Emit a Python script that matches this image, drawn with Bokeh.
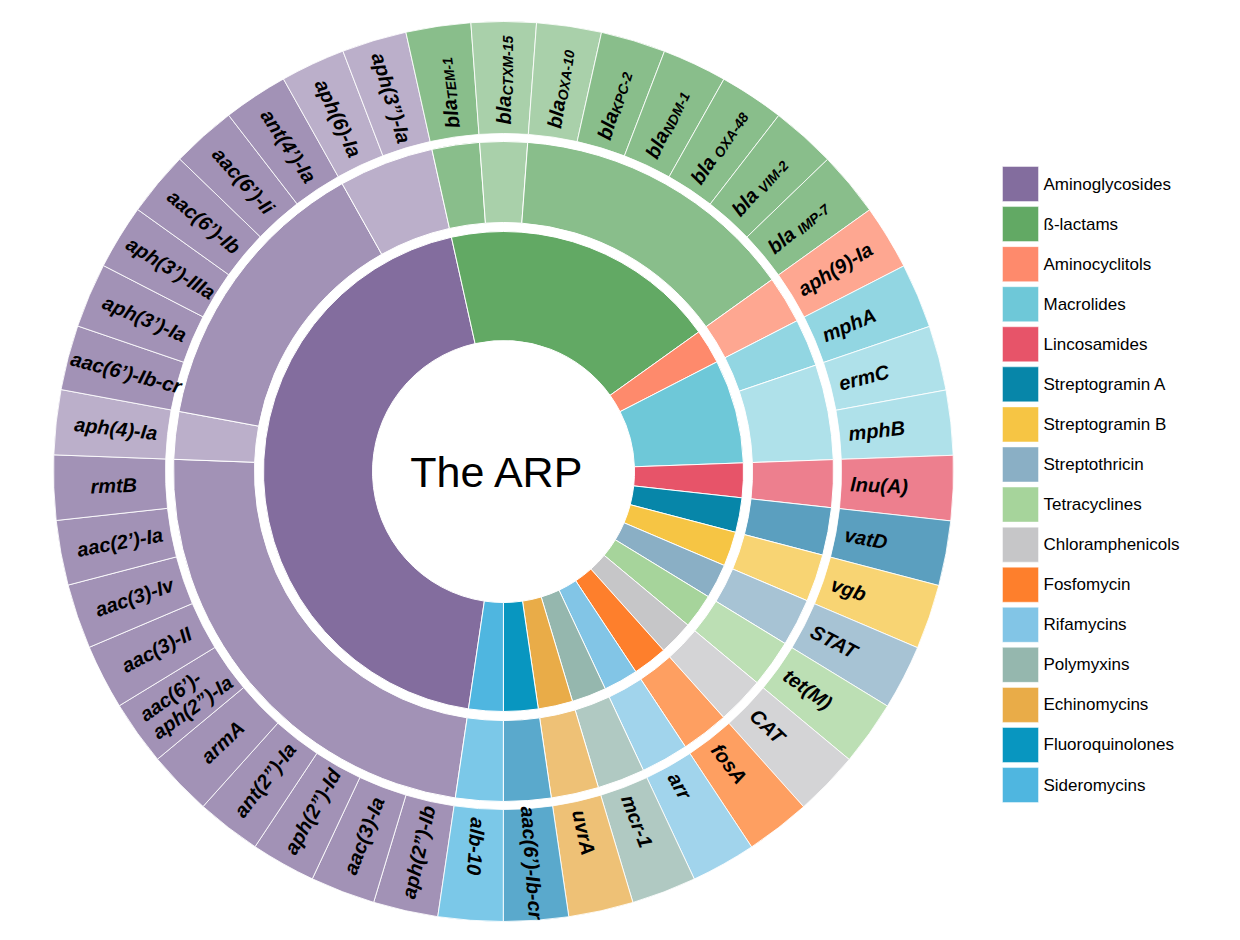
import math
from bokeh.plotting import figure
from bokeh.models import Range1d, ColumnDataSource
from bokeh.embed import file_html
from bokeh.resources import INLINE
from bokeh.core.properties import value

# ---------------- data ----------------
classes = ["Aminoglycosides", "ß-lactams", "Aminocyclitols", "Macrolides", "Lincosamides",
           "Streptogramin A", "Streptogramin B", "Streptothricin", "Tetracyclines",
           "Chloramphenicols", "Fosfomycin", "Rifamycins", "Polymyxins", "Echinomycins",
           "Fluoroquinolones", "Sideromycins"]
class_colors = ["#836d9e", "#62a964", "#fe8a6c", "#6ec8d8", "#e75469", "#0786a9", "#f6c544",
                "#8aafc5", "#a6d49b", "#c6c6c8", "#fe7f2c", "#82c5e6", "#95b7ae", "#e9ac48",
                "#0896c0", "#4fb6e0"]
# shade used in the middle/outer rings where a plain tint does not match
ring_color_override = {"Streptogramin A": "#5b9fbf", "Fluoroquinolones": "#5aa9cc"}

# genes in clockwise order (starting next to alb-10); "|" marks a subscript, "\n" a line break
gene_labels = ["aph(2”)-Ib", "aac(3)-Ia", "aph(2”)-Id", "ant(2”)-Ia", "armA",
               "aac(6’)-\naph(2”)-Ia", "aac(3)-II", "aac(3)-Iv", "aac(2’)-Ia", "rmtB",
               "aph(4)-Ia", "aac(6’)-Ib-cr", "aph(3’)-Ia", "aph(3’)-IIIa", "aac(6’)-Ib",
               "aac(6’)-Ii", "ant(4’)-Ia", "aph(6)-Ia", "aph(3”)-Ia",
               "bla|TEM-1", "bla|CTXM-15", "bla|OXA-10", "bla|KPC-2", "bla|NDM-1",
               "bla| OXA-48", "bla| VIM-2", "bla| IMP-7",
               "aph(9)-Ia", "mphA", "ermC", "mphB", "lnu(A)", "vatD", "vgb", "STAT",
               "tet(M)", "CAT", "fosA", "arr", "mcr-1", "uvrA", "aac(6’)-Ib-cr", "alb-10"]
gene_classes = (["Aminoglycosides"] * 19 + ["ß-lactams"] * 8 + ["Aminocyclitols"] +
                ["Macrolides"] * 3 +
                ["Lincosamides", "Streptogramin A", "Streptogramin B", "Streptothricin",
                 "Tetracyclines", "Chloramphenicols", "Fosfomycin", "Rifamycins",
                 "Polymyxins", "Echinomycins", "Fluoroquinolones", "Sideromycins"])
gene_weights = [1] * 43
gene_tones = (["d"] * 10 + ["l"] + ["d"] * 6 + ["l", "l"] +
              ["d", "l", "l", "d", "d", "d", "d", "d"] + ["d"] +
              ["d", "l", "l"] + ["d"] * 12)
# middle ring: consecutive gene counts per group and their tone
group_sizes = [10, 1, 6, 2, 1, 1, 6, 1, 1, 2] + [1] * 12
group_tones = ["d", "l", "d", "l", "d", "l", "d", "d", "d", "l"] + ["d"] * 12

title_text = "The ARP"

# ---------------- layout ----------------
W, H = 1224, 924
CX, CY = 503.0, 469.0          # data coords: x = screen x, y = 940 - screen y
R0, R1, R2, R3, R4, R5 = 131, 240, 249, 330, 338, 450
START = 188.4                   # degrees clockwise from 12 o'clock
TONE_ALPHA = {"d": 0.75, "l": 0.55}
FLIP_FROM, FLIP_TO = 185.0, 350.0
LABEL_FONT = value("Liberation Sans")
DEG = math.pi / 180.0

cmap = dict(zip(classes, class_colors))
total = float(sum(gene_weights))


def tint(hexc, a):
    h = hexc.lstrip("#")
    rgb = [int(h[j:j + 2], 16) for j in (0, 2, 4)]
    return "#" + "".join(f"{int(round(255 - a * (255 - v))):02x}" for v in rgb)


def ring_color(cls, tone):
    if tone == "d" and cls in ring_color_override:
        return ring_color_override[cls]
    return tint(cmap[cls], TONE_ALPHA[tone])


def to_angle(theta):
    return (90.0 - theta) * DEG


BOLD_W = {"a": 556, "b": 611, "c": 556, "d": 611, "e": 556, "f": 333, "g": 611, "h": 611,
          "i": 278, "l": 278, "m": 889, "n": 611, "o": 611, "p": 611, "r": 389, "s": 556,
          "t": 333, "u": 611, "v": 556, "x": 556, "y": 556, "(": 333, ")": 333, "-": 333,
          "’": 278, "”": 500, " ": 278, "A": 722, "B": 722, "C": 722, "D": 722, "E": 667,
          "I": 278, "K": 722, "M": 833, "N": 722, "O": 778, "P": 667, "S": 667, "T": 611,
          "V": 667, "X": 667}


def text_w(s, size):
    return sum(BOLD_W.get(ch, 556) for ch in s) / 1000.0 * size


p = figure(width=W, height=H, x_range=Range1d(0, W), y_range=Range1d(940 - H, 940),
           x_axis_type=None, y_axis_type=None, toolbar_location=None,
           output_backend="svg", min_border=0, outline_line_color=None,
           background_fill_color="white", border_fill_color="white")

# ---- spans ----
gene_t0 = []
acc = 0.0
for wgt in gene_weights:
    gene_t0.append(START + acc / total * 360.0)
    acc += wgt
gene_t1 = [t + w / total * 360.0 for t, w in zip(gene_t0, gene_weights)]

# inner ring (classes)
ring_classes = []
for c in gene_classes:
    if c not in ring_classes:
        ring_classes.append(c)
inner = dict(s=[], e=[], color=[])
for c in ring_classes:
    idx = [i for i, g in enumerate(gene_classes) if g == c]
    inner["s"].append(to_angle(gene_t1[idx[-1]]))
    inner["e"].append(to_angle(gene_t0[idx[0]]))
    inner["color"].append(cmap[c])
p.annular_wedge(x=CX, y=CY, inner_radius=R0, outer_radius=R1, start_angle="s",
                end_angle="e", fill_color="color", line_color="white", line_width=1,
                source=ColumnDataSource(inner))

# middle ring
mid = dict(s=[], e=[], color=[])
k = 0
for size, tone in zip(group_sizes, group_tones):
    mid["s"].append(to_angle(gene_t1[k + size - 1]))
    mid["e"].append(to_angle(gene_t0[k]))
    mid["color"].append(ring_color(gene_classes[k], tone))
    k += size
p.annular_wedge(x=CX, y=CY, inner_radius=R2, outer_radius=R3, start_angle="s",
                end_angle="e", fill_color="color", line_color="white",
                line_width=1, source=ColumnDataSource(mid))

# outer ring
outer = dict(s=[to_angle(t) for t in gene_t1], e=[to_angle(t) for t in gene_t0],
             color=[ring_color(c, t) for c, t in zip(gene_classes, gene_tones)])
p.annular_wedge(x=CX, y=CY, inner_radius=R4, outer_radius=R5, start_angle="s",
                end_angle="e", fill_color="color", line_color="white",
                line_width=1, line_alpha=0.85, source=ColumnDataSource(outer))

# ---- labels ----
groups = {}


def add(key, x, y, txt, ang):
    d = groups.setdefault(key, dict(x=[], y=[], text=[], angle=[]))
    d["x"].append(x)
    d["y"].append(y)
    d["text"].append(txt)
    d["angle"].append(ang)


def place(r, phi, psi, up):
    return (CX + r * math.cos(phi) - up * math.sin(psi),
            CY + r * math.sin(phi) + up * math.cos(psi))


FS, SFS = 20, 14
for i, lab in enumerate(gene_labels):
    theta = (gene_t0[i] + gene_t1[i]) / 2.0
    tm = theta % 360.0
    phi = to_angle(theta)
    flip = FLIP_FROM < tm < FLIP_TO
    psi = phi + math.pi if flip else phi
    if "|" in lab:
        base, sub = lab.split("|")
        gap = 5 if sub.startswith(" ") else 0
        sub = sub.strip()
        wb = text_w(base, FS)
        ws = text_w(sub, SFS)
        r0 = min(347, 449 - wb - gap - ws)
        x, y = place(r0, phi, psi, 0)
        add(("left", "middle", FS), x, y, base, psi)
        x, y = place(r0 + wb + gap, phi, psi, -4)
        add(("left", "middle", SFS), x, y, sub, psi)
    elif "\n" in lab:
        lines = lab.split("\n")
        maxw = max(text_w(s, FS) for s in lines)
        if flip:
            rs = 390 + maxw / 2.0
        else:
            rs = min(347, 449 - maxw)
        n = len(lines)
        for j, s in enumerate(lines):
            up = (n - 1) / 2.0 * 22 - j * 22
            x, y = place(rs, phi, psi, up)
            add(("left", "middle", FS), x, y, s, psi)
    else:
        if flip:
            x, y = place(390, phi, psi, 0)
            add(("center", "middle", FS), x, y, lab, psi)
        else:
            r0 = min(347, 449 - text_w(lab, FS))
            x, y = place(r0, phi, psi, 0)
            add(("left", "middle", FS), x, y, lab, psi)

for (align, base, size), d in groups.items():
    p.text(x="x", y="y", text="text", angle="angle", source=ColumnDataSource(d),
           text_font=LABEL_FONT, text_font_size=f"{size}px", text_font_style="bold italic",
           text_align=align, text_baseline=base, text_color="#000000")

# centre title
p.text(x=[497], y=[469], text=[title_text], text_font=LABEL_FONT, text_font_size="43px",
       text_align="center", text_baseline="middle", text_color="#000000")

# ---- legend ----
ly = [940 - (183.5 + 40.07 * k) for k in range(len(classes))]
p.rect(x=[1020] * len(classes), y=ly, width=36, height=35, fill_color=class_colors,
       line_color="white", line_alpha=0.45, line_width=1)
p.text(x=[1043] * len(classes), y=ly, text=classes, text_font=LABEL_FONT,
       text_font_size="17px", text_align="left", text_baseline="middle",
       text_color="#000000")

open("out.html", "w").write(file_html(p, INLINE))
